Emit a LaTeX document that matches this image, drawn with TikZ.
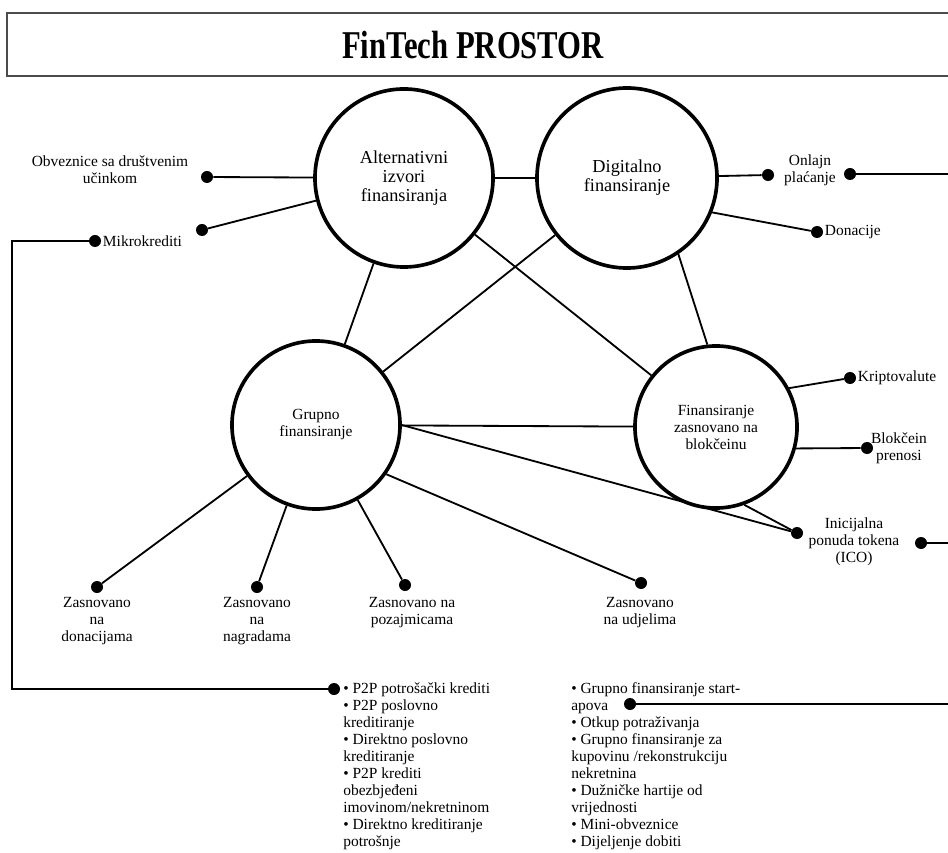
\documentclass[tikz,border=0pt]{standalone}
\usepackage{fontspec}
\setmainfont{Liberation Serif}
\begin{document}
\begin{tikzpicture}[x=0.025cm, y=-0.025cm,
  every node/.style={font=\fontsize{11}{12.1}\selectfont},
  krug/.style={draw, circle, line width=2.6pt, align=center, inner sep=0pt},
  veliki/.style={font=\fontsize{13}{13.6}\selectfont},
  tacka/.style={circle, fill, inner sep=0pt, minimum size=0.3cm},
  oznaka/.style={align=center, inner sep=0pt},
  veza/.style={line width=1.3pt}]
\useasboundingbox (0,0) rectangle (948,853);
\clip (0,0) rectangle (948,853);

\draw[black!70, line width=1pt] (7,13) rectangle (990,76);
\node(naslov)[font=\fontsize{28}{30}\selectfont\bfseries, xscale=0.78] at (473,45) {FinTech PROSTOR};

\node(alt)[krug, veliki, minimum size=4.45cm] at (404,178) {Alternativni\\izvori\\finansiranja};
\node(dig)[krug, veliki, minimum size=4.5cm] at (627,178) {Digitalno\\finansiranje};
\node(grp)[krug, minimum size=4.2cm] at (316,425) {Grupno\\finansiranje};
\node(blk)[krug, minimum size=4.05cm] at (716,427) {Finansiranje\\zasnovano na\\blokčeinu};

\node(obvT)[tacka] at (207,177) {};
\node(mikT1)[tacka] at (202,230) {};
\node(mikT2)[tacka] at (95,241) {};
\node(onlT1)[tacka] at (768,175) {};
\node(onlT2)[tacka] at (850,174) {};
\node(donT)[tacka] at (817,232) {};
\node(kriT)[tacka] at (850,378) {};
\node(prnT)[tacka] at (867,448) {};
\node(icoT1)[tacka] at (797,533) {};
\node(icoT2)[tacka] at (921,543) {};
\node(zdT)[tacka] at (97,587) {};
\node(znT)[tacka] at (257,587) {};
\node(zpT)[tacka] at (405,585) {};
\node(zuT)[tacka] at (641,583) {};
\node(lst1T)[tacka] at (334,689) {};
\node(lst2T)[tacka] at (630,704) {};

\node(obvL)[oznaka] at (110,170) {Obveznice sa društvenim\\učinkom};
\node(mikL)[oznaka, anchor=west, xshift=1pt] at (mikT2.east) {Mikrokrediti};
\node(onlL)[oznaka] at (810,170) {Onlajn\\plaćanje};
\node(donL)[oznaka, anchor=west, xshift=1pt] at (donT.east) {Donacije};
\node(kriL)[oznaka, anchor=west, xshift=1pt] at (kriT.east) {Kriptovalute};
\node(prnL)[oznaka] at (899,448) {Blokčein\\prenosi};
\node(icoL)[oznaka] at (854,542) {Inicijalna\\ponuda tokena\\(ICO)};
\node(zdL)[oznaka] at (97,621) {Zasnovano\\na\\donacijama};
\node(znL)[oznaka] at (257,621) {Zasnovano\\na\\nagradama};
\node(zpL)[oznaka] at (412,613) {Zasnovano na\\pozajmicama};
\node(zuL)[oznaka] at (640,613) {Zasnovano\\na udjelima};

\node(lst1)[oznaka, align=left, anchor=north west] at (343,682) {• P2P potrošački krediti\\ • P2P poslovno\\ kreditiranje\\ • Direktno poslovno\\ kreditiranje\\ • P2P krediti\\ obezbjeđeni\\ imovinom/nekretninom\\ • Direktno kreditiranje\\ potrošnje};
\node(lst2)[oznaka, align=left, anchor=north west] at (571,682) {• Grupno finansiranje start-\\ apova\\ • Otkup potraživanja\\ • Grupno finansiranje za\\ kupovinu /rekonstrukciju\\ nekretnina\\ • Dužničke hartije od\\ vrijednosti\\ • Mini-obveznice\\ • Dijeljenje dobiti};

\coordinate(rub) at (948,0);
\coordinate(ugao) at (12,241);

\draw[veza] (alt) -- (dig);
\draw[veza] (alt) -- (obvT);
\draw[veza] (alt) -- (mikT1);
\draw[veza] (alt) -- (grp);
\draw[veza] (alt) -- (blk);
\draw[veza] (dig) -- (grp);
\draw[veza] (dig.-56) -- (blk.96);
\draw[veza] (dig) -- (onlT1);
\draw[veza] (dig.-22) -- (donT);
\draw[veza] (grp) -- (blk);
\draw[veza] (grp.0) -- (icoT1);
\draw[veza] (blk.-70) -- (icoT1);
\draw[veza] (blk.28) -- (kriT);
\draw[veza] (blk.-15) -- (prnT);
\draw[veza] (grp) -- (zdT);
\draw[veza] (grp) -- (znT);
\draw[veza] (grp) -- (zpT);
\draw[veza] (grp.-35) -- (zuT);

\draw[veza] (mikT2) -- (ugao) |- (lst1T);
\draw[veza] (onlT2) -- (onlT2 -| rub);
\draw[veza] (icoT2) -- (icoT2 -| rub);
\draw[veza] (lst2T) -- (lst2T -| rub);
\end{tikzpicture}
\end{document}
